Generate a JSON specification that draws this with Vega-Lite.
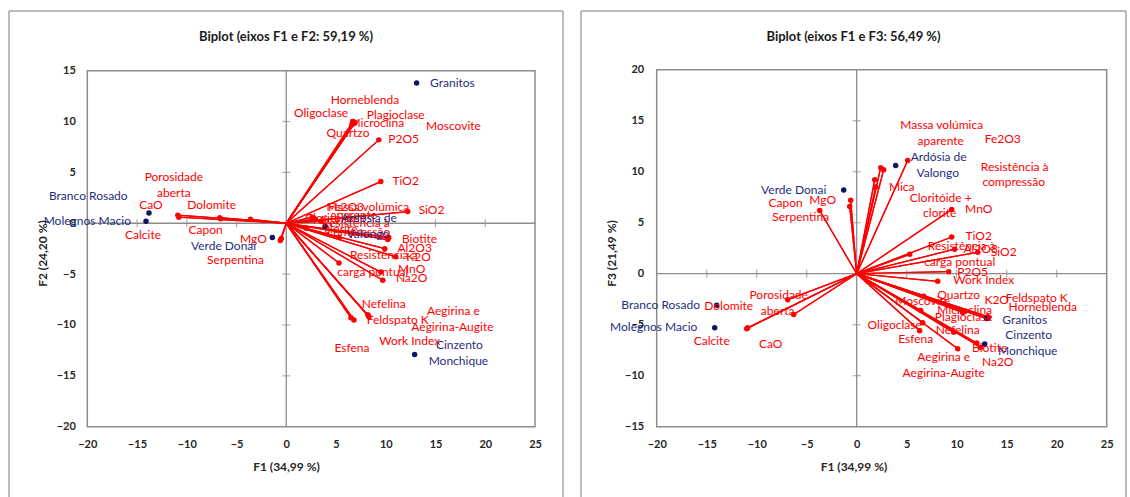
{
  "$schema": "https://vega.github.io/schema/vega-lite/v6.json",
  "padding": {"left": 7, "top": 9, "right": 0, "bottom": 0},
  "autosize": {"type": "pad"},
  "spacing": 14,
  "config": {
    "font": "Lato",
    "view": {"stroke": null},
    "axis": {"grid": false, "domain": false, "ticks": false, "tickSize": 0, "labelFont": "Lato", "labelFontSize": 11, "labelFontWeight": "bold", "labelColor": "#262626", "titleFont": "Lato", "titleFontSize": 12, "titleFontWeight": "bold", "titleColor": "#262626"},
    "title": {"font": "Lato", "fontSize": 13, "fontWeight": "bold", "color": "#1a1a1a", "anchor": "middle"}
  },
  "datasets": {
    "vecL": [
      {"n": "CaO", "x": -10.9, "y": 0.8}, {"n": "Calcite", "x": -10.8, "y": 0.6},
      {"n": "Porosidade aberta", "x": -6.7, "y": 0.55}, {"n": "Dolomite", "x": -6.6, "y": 0.45},
      {"n": "Serpentina", "x": -3.6, "y": 0.4}, {"n": "MgO", "x": -0.5, "y": -1.5}, {"n": "Capon", "x": -0.6, "y": -1.7},
      {"n": "Oligoclase", "x": 6.7, "y": 10.0}, {"n": "Horneblenda", "x": 6.9, "y": 9.9}, {"n": "Plagioclase", "x": 6.8, "y": 9.8},
      {"n": "Microclina", "x": 6.75, "y": 9.95}, {"n": "Moscovite", "x": 6.6, "y": 9.7}, {"n": "Quartzo", "x": 6.85, "y": 9.85},
      {"n": "P2O5", "x": 9.3, "y": 8.2}, {"n": "TiO2", "x": 9.5, "y": 4.1}, {"n": "SiO2", "x": 12.2, "y": 1.15},
      {"n": "Massa volúmica aparente", "x": 2.6, "y": 0.6}, {"n": "Fe2O3", "x": 2.9, "y": 0.4}, {"n": "Mica", "x": 2.0, "y": -0.5},
      {"n": "Cloritóide + clorite", "x": 5.3, "y": -1.4}, {"n": "Resistência à compressão", "x": 3.5, "y": 0.2},
      {"n": "Biotite", "x": 10.2, "y": -1.6}, {"n": "Al2O3", "x": 9.9, "y": -2.5}, {"n": "K2O", "x": 11.0, "y": -3.3},
      {"n": "Resistência à carga pontual", "x": 5.3, "y": -3.9}, {"n": "MnO", "x": 9.5, "y": -4.8}, {"n": "Na2O", "x": 9.7, "y": -5.6},
      {"n": "Work Index", "x": 10.3, "y": -1.4}, {"n": "Nefelina", "x": 8.3, "y": -9.2}, {"n": "Feldspato K", "x": 8.2, "y": -9.0},
      {"n": "Esfena", "x": 6.5, "y": -9.3}, {"n": "Aegirina e Aegirina-Augite", "x": 6.8, "y": -9.5}
    ],
    "obsL": [
      {"n": "Branco Rosado", "x": -13.8, "y": 1.0}, {"n": "Molegnos Macio", "x": -14.1, "y": 0.2},
      {"n": "Verde Donai", "x": -1.4, "y": -1.4}, {"n": "Ardósia de Valongo", "x": 3.9, "y": -0.3},
      {"n": "Granitos", "x": 13.1, "y": 13.8}, {"n": "Cinzento Monchique", "x": 12.9, "y": -12.9}
    ],
    "labL": [
      {"t": "Horneblenda", "k": "var", "x": 7.9, "y": 12.1}, {"t": "Oligoclase", "k": "var", "x": 3.5, "y": 10.8},
      {"t": "Plagioclase", "k": "var", "x": 11.0, "y": 10.6}, {"t": "Microclina", "k": "var", "x": 9.1, "y": 9.9},
      {"t": "Moscovite", "k": "var", "x": 16.8, "y": 9.6}, {"t": "Quartzo", "k": "var", "x": 6.2, "y": 8.9},
      {"t": "P2O5", "k": "var", "x": 11.8, "y": 8.3}, {"t": "TiO2", "k": "var", "x": 12.0, "y": 4.2},
      {"t": "SiO2", "k": "var", "x": 14.6, "y": 1.3},
      {"t": "Massa volúmica", "k": "var", "x": 8.2, "y": 1.6}, {"t": "Fe2O3", "k": "var", "x": 6.0, "y": 1.6},
      {"t": "aparente", "k": "var", "x": 6.8, "y": 0.8}, {"t": "Cloritóide +", "k": "var", "x": 5.0, "y": 0.5},
      {"t": "Resistência à", "k": "var", "x": 7.0, "y": 0.0}, {"t": "clorite", "k": "var", "x": 5.5, "y": -0.6},
      {"t": "compressão", "k": "var", "x": 7.3, "y": -0.9}, {"t": "Mica", "k": "var", "x": 4.0, "y": 0.3},
      {"t": "Ardósia de", "k": "obs", "x": 8.3, "y": 0.5}, {"t": "Valongo", "k": "obs", "x": 8.2, "y": -1.1},
      {"t": "Biotite", "k": "var", "x": 13.4, "y": -1.5}, {"t": "Al2O3", "k": "var", "x": 12.9, "y": -2.4},
      {"t": "Resistência à", "k": "var", "x": 9.8, "y": -3.1}, {"t": "K2O", "k": "var", "x": 13.3, "y": -3.3},
      {"t": "carga pontual", "k": "var", "x": 8.7, "y": -4.75}, {"t": "MnO", "k": "var", "x": 12.6, "y": -4.5},
      {"t": "Na2O", "k": "var", "x": 12.6, "y": -5.4}, {"t": "Nefelina", "k": "var", "x": 9.8, "y": -7.9},
      {"t": "Feldspato K", "k": "var", "x": 11.2, "y": -9.5}, {"t": "Aegirina e", "k": "var", "x": 16.8, "y": -8.6},
      {"t": "Aegirina-Augite", "k": "var", "x": 16.7, "y": -10.2}, {"t": "Work Index", "k": "var", "x": 12.4, "y": -11.6},
      {"t": "Esfena", "k": "var", "x": 6.6, "y": -12.3},
      {"t": "Cinzento", "k": "obs", "x": 17.4, "y": -12.0}, {"t": "Monchique", "k": "obs", "x": 17.3, "y": -13.5},
      {"t": "Granitos", "k": "obs", "x": 16.7, "y": 13.8},
      {"t": "Porosidade", "k": "var", "x": -11.3, "y": 4.5}, {"t": "aberta", "k": "var", "x": -11.3, "y": 2.95},
      {"t": "Dolomite", "k": "var", "x": -7.5, "y": 1.8}, {"t": "CaO", "k": "var", "x": -13.6, "y": 1.75},
      {"t": "Calcite", "k": "var", "x": -14.4, "y": -1.15}, {"t": "Capon", "k": "var", "x": -8.1, "y": -0.7},
      {"t": "MgO", "k": "var", "x": -3.3, "y": -1.5}, {"t": "Serpentina", "k": "var", "x": -5.1, "y": -3.6},
      {"t": "Branco Rosado", "k": "obs", "x": -19.9, "y": 2.7}, {"t": "Molegnos Macio", "k": "obs", "x": -20.0, "y": 0.2},
      {"t": "Verde Donai", "k": "obs", "x": -6.3, "y": -2.2}
    ],
    "xtL": [{"x": -15}, {"x": -10}, {"x": -5}, {"x": 5}, {"x": 10}, {"x": 15}, {"x": 20}],
    "ytL": [{"y": -15}, {"y": -10}, {"y": -5}, {"y": 5}, {"y": 10}],
    "vecR": [
      {"n": "CaO", "x": -11.0, "y": -5.4}, {"n": "Calcite", "x": -10.9, "y": -5.3},
      {"n": "Porosidade aberta", "x": -6.9, "y": -2.55}, {"n": "Dolomite", "x": -6.3, "y": -4.0},
      {"n": "MgO", "x": -0.6, "y": 7.2}, {"n": "Capon", "x": -0.7, "y": 6.6}, {"n": "Serpentina", "x": -3.7, "y": 6.2},
      {"n": "Massa volúmica aparente", "x": 2.4, "y": 10.4}, {"n": "Fe2O3", "x": 2.7, "y": 10.2},
      {"n": "Resistência à compressão", "x": 5.1, "y": 11.1}, {"n": "Mica", "x": 1.8, "y": 9.2},
      {"n": "Cloritóide + clorite", "x": 1.9, "y": 8.5}, {"n": "MnO", "x": 9.5, "y": 6.3},
      {"n": "TiO2", "x": 9.5, "y": 3.6}, {"n": "Al2O3", "x": 9.8, "y": 2.4}, {"n": "SiO2", "x": 12.1, "y": 2.1},
      {"n": "Resistência à carga pontual", "x": 5.3, "y": 1.9}, {"n": "P2O5", "x": 9.2, "y": 0.2},
      {"n": "Work Index", "x": 8.1, "y": -0.75}, {"n": "Quartzo", "x": 6.7, "y": -2.2},
      {"n": "Moscovite", "x": 6.4, "y": -3.6}, {"n": "Oligoclase", "x": 6.6, "y": -4.8},
      {"n": "Esfena", "x": 6.3, "y": -5.6}, {"n": "Nefelina", "x": 9.7, "y": -5.75},
      {"n": "Microclina", "x": 10.8, "y": -3.7}, {"n": "Plagioclase", "x": 10.6, "y": -3.8},
      {"n": "K2O", "x": 13.1, "y": -4.2}, {"n": "Feldspato K", "x": 13.2, "y": -4.3}, {"n": "Horneblenda", "x": 13.0, "y": -4.4},
      {"n": "Aegirina e Aegirina-Augite", "x": 10.1, "y": -7.35}, {"n": "Biotite", "x": 12.0, "y": -6.8}, {"n": "Na2O", "x": 12.4, "y": -7.2}
    ],
    "obsR": [
      {"n": "Ardósia de Valongo", "x": 3.9, "y": 10.6}, {"n": "Verde Donai", "x": -1.3, "y": 8.2},
      {"n": "Branco Rosado", "x": -14.0, "y": -3.1}, {"n": "Molegnos Macio", "x": -14.2, "y": -5.3},
      {"n": "Granitos", "x": 13.0, "y": -4.4}, {"n": "Cinzento Monchique", "x": 12.8, "y": -6.9}
    ],
    "labR": [
      {"t": "Verde Donai", "k": "obs", "x": -6.3, "y": 8.2}, {"t": "Capon", "k": "var", "x": -7.1, "y": 6.9},
      {"t": "MgO", "k": "var", "x": -3.4, "y": 7.25}, {"t": "Serpentina", "k": "var", "x": -5.6, "y": 5.55},
      {"t": "Massa volúmica", "k": "var", "x": 8.5, "y": 14.6}, {"t": "aparente", "k": "var", "x": 8.4, "y": 13.0},
      {"t": "Fe2O3", "k": "var", "x": 14.6, "y": 13.2},
      {"t": "Ardósia de", "k": "obs", "x": 8.2, "y": 11.4}, {"t": "Valongo", "k": "obs", "x": 8.1, "y": 9.9},
      {"t": "Resistência à", "k": "var", "x": 15.8, "y": 10.5}, {"t": "compressão", "k": "var", "x": 15.7, "y": 8.95},
      {"t": "Mica", "k": "var", "x": 4.5, "y": 8.5}, {"t": "Cloritóide +", "k": "var", "x": 8.4, "y": 7.4},
      {"t": "clorite", "k": "var", "x": 8.3, "y": 5.95}, {"t": "MnO", "k": "var", "x": 12.2, "y": 6.3},
      {"t": "TiO2", "k": "var", "x": 12.2, "y": 3.7}, {"t": "Resistência à", "k": "var", "x": 10.5, "y": 2.75},
      {"t": "Al2O3", "k": "var", "x": 12.4, "y": 2.4}, {"t": "SiO2", "k": "var", "x": 14.7, "y": 2.1},
      {"t": "carga pontual", "k": "var", "x": 10.3, "y": 1.1}, {"t": "P2O5", "k": "var", "x": 11.6, "y": 0.2},
      {"t": "Work Index", "k": "var", "x": 12.7, "y": -0.65}, {"t": "Quartzo", "k": "var", "x": 10.2, "y": -2.05},
      {"t": "K2O", "k": "var", "x": 14.0, "y": -2.55}, {"t": "Feldspato K", "k": "var", "x": 18.0, "y": -2.4},
      {"t": "Horneblenda", "k": "var", "x": 18.6, "y": -3.3}, {"t": "Moscovite", "k": "var", "x": 6.6, "y": -2.7},
      {"t": "Microclina", "k": "var", "x": 10.8, "y": -3.6}, {"t": "Plagioclase", "k": "var", "x": 10.7, "y": -4.2},
      {"t": "Granitos", "k": "obs", "x": 16.8, "y": -4.5}, {"t": "Oligoclase", "k": "var", "x": 3.8, "y": -5.0},
      {"t": "Nefelina", "k": "var", "x": 10.1, "y": -5.55}, {"t": "Esfena", "k": "var", "x": 5.9, "y": -6.4},
      {"t": "Cinzento", "k": "obs", "x": 17.2, "y": -6.05}, {"t": "Biotite", "k": "var", "x": 13.3, "y": -7.3},
      {"t": "Monchique", "k": "obs", "x": 17.1, "y": -7.55}, {"t": "Aegirina e", "k": "var", "x": 8.7, "y": -8.2},
      {"t": "Na2O", "k": "var", "x": 14.1, "y": -8.7}, {"t": "Aegirina-Augite", "k": "var", "x": 8.7, "y": -9.75},
      {"t": "Porosidade", "k": "var", "x": -7.8, "y": -2.05}, {"t": "aberta", "k": "var", "x": -7.9, "y": -3.7},
      {"t": "Branco Rosado", "k": "obs", "x": -19.6, "y": -3.05}, {"t": "Dolomite", "k": "var", "x": -12.8, "y": -3.2},
      {"t": "Molegnos Macio", "k": "obs", "x": -20.3, "y": -5.2}, {"t": "Calcite", "k": "var", "x": -14.5, "y": -6.55},
      {"t": "CaO", "k": "var", "x": -8.6, "y": -6.85}
    ],
    "xtR": [{"x": -15}, {"x": -10}, {"x": -5}, {"x": 5}, {"x": 10}, {"x": 15}, {"x": 20}],
    "ytR": [{"y": -10}, {"y": -5}, {"y": 5}, {"y": 10}, {"y": 15}]
  },
  "hconcat": [
    {
      "width": 558,
      "height": 488,
      "title": {"text": "Biplot (eixos F1 e F2: 59,19 %)", "offset": -35},
      "layer": [
        {"data": {"name": "vecL"}, "mark": {"type": "rule", "color": "#ff0000", "strokeWidth": 1.3},
         "encoding": {
           "x": {"field": "x", "type": "quantitative", "scale": {"domain": [-28.071, 28.015], "nice": false, "zero": false},
                 "axis": {"values": [-20, -15, -10, -5, 0, 5, 10, 15, 20, 25], "offset": -70.3, "labelPadding": 12, "title": "F1 (34,99 %)", "titlePadding": 12}},
           "y": {"field": "y", "type": "quantitative", "scale": {"domain": [-26.912, 21.066], "nice": false, "zero": false},
                 "axis": {"values": [-20, -15, -10, -5, 0, 5, 10, 15], "offset": -80.3, "labelPadding": 12, "title": "F2 (24,20 %)", "titlePadding": 7}},
           "x2": {"datum": 0}, "y2": {"datum": 0}}},
        {"data": {"values": [{}]}, "mark": {"type": "rule", "color": "#a6a6a6", "strokeWidth": 1.5},
         "encoding": {"x": {"datum": -27.87, "type": "quantitative"}, "y": {"datum": 20.87, "type": "quantitative"}, "y2": {"datum": -26.912}}},
        {"data": {"values": [{}]}, "mark": {"type": "rule", "color": "#a6a6a6", "strokeWidth": 1.5},
         "encoding": {"x": {"datum": 27.814, "type": "quantitative"}, "y": {"datum": 20.87, "type": "quantitative"}, "y2": {"datum": -26.912}}},
        {"data": {"values": [{}]}, "mark": {"type": "rule", "color": "#a6a6a6", "strokeWidth": 1.5},
         "encoding": {"x": {"datum": -27.87, "type": "quantitative"}, "x2": {"datum": 27.814}, "y": {"datum": 20.87, "type": "quantitative"}}},
        {"data": {"values": [{}]}, "mark": {"type": "rect", "fill": null, "stroke": "#8c8c8c", "strokeWidth": 1.5},
         "encoding": {"x": {"datum": -20, "type": "quantitative"}, "x2": {"datum": 25}, "y": {"datum": -20, "type": "quantitative"}, "y2": {"datum": 15}}},
        {"data": {"values": [{}]}, "mark": {"type": "rule", "color": "#8c8c8c", "strokeWidth": 1.3},
         "encoding": {"x": {"datum": 0, "type": "quantitative"}, "y": {"datum": -20, "type": "quantitative"}, "y2": {"datum": 15}}},
        {"data": {"values": [{}]}, "mark": {"type": "rule", "color": "#8c8c8c", "strokeWidth": 1.3},
         "encoding": {"y": {"datum": 0, "type": "quantitative"}, "x": {"datum": -20, "type": "quantitative"}, "x2": {"datum": 25}}},
        {"data": {"name": "xtL"}, "mark": {"type": "tick", "orient": "vertical", "size": 8, "thickness": 1.2, "color": "#8c8c8c"},
         "encoding": {"x": {"field": "x", "type": "quantitative"}, "y": {"datum": 0, "type": "quantitative"}}},
        {"data": {"name": "ytL"}, "mark": {"type": "tick", "orient": "horizontal", "size": 8, "thickness": 1.2, "color": "#8c8c8c"},
         "encoding": {"y": {"field": "y", "type": "quantitative"}, "x": {"datum": 0, "type": "quantitative"}}},
        {"data": {"name": "vecL"}, "mark": {"type": "rule", "color": "#ff0000", "strokeWidth": 1.3},
         "encoding": {"x": {"field": "x", "type": "quantitative"}, "y": {"field": "y", "type": "quantitative"}, "x2": {"datum": 0}, "y2": {"datum": 0}}},
        {"data": {"name": "vecL"}, "mark": {"type": "circle", "color": "#ff0000", "size": 30, "opacity": 1},
         "encoding": {"x": {"field": "x", "type": "quantitative"}, "y": {"field": "y", "type": "quantitative"}}},
        {"data": {"name": "obsL"}, "mark": {"type": "circle", "color": "#0c1565", "size": 30, "opacity": 1},
         "encoding": {"x": {"field": "x", "type": "quantitative"}, "y": {"field": "y", "type": "quantitative"}}},
        {"data": {"name": "labL"}, "mark": {"type": "text", "fontSize": 12, "font": "Lato"},
         "encoding": {"x": {"field": "x", "type": "quantitative"}, "y": {"field": "y", "type": "quantitative"},
           "text": {"field": "t"}, "color": {"field": "k", "type": "nominal", "scale": {"domain": ["var", "obs"], "range": ["#ff0000", "#1f2d80"]}, "legend": null}}}
      ]
    },
    {
      "width": 549,
      "height": 488,
      "title": {"text": "Biplot (eixos F1 e F3: 56,49 %)", "offset": -35},
      "layer": [
        {"data": {"name": "vecR"}, "mark": {"type": "rule", "color": "#ff0000", "strokeWidth": 1.3},
         "encoding": {
           "x": {"field": "x", "type": "quantitative", "scale": {"domain": [-27.77, 27.13], "nice": false, "zero": false},
                 "axis": {"values": [-20, -15, -10, -5, 0, 5, 10, 15, 20, 25], "offset": -70.3, "labelPadding": 12, "title": "F1 (34,99 %)", "titlePadding": 12}},
           "y": {"field": "y", "type": "quantitative", "scale": {"domain": [-21.89, 25.95], "nice": false, "zero": false},
                 "axis": {"values": [-15, -10, -5, 0, 5, 10, 15, 20], "offset": -77.7, "labelPadding": 13, "title": "F3 (21,49 %)", "titlePadding": 6}},
           "x2": {"datum": 0}, "y2": {"datum": 0}}},
        {"data": {"values": [{}]}, "mark": {"type": "rule", "color": "#a6a6a6", "strokeWidth": 1.5},
         "encoding": {"x": {"datum": -27.57, "type": "quantitative"}, "y": {"datum": 25.755, "type": "quantitative"}, "y2": {"datum": -21.89}}},
        {"data": {"values": [{}]}, "mark": {"type": "rule", "color": "#a6a6a6", "strokeWidth": 1.5},
         "encoding": {"x": {"datum": 26.93, "type": "quantitative"}, "y": {"datum": 25.755, "type": "quantitative"}, "y2": {"datum": -21.89}}},
        {"data": {"values": [{}]}, "mark": {"type": "rule", "color": "#a6a6a6", "strokeWidth": 1.5},
         "encoding": {"x": {"datum": -27.57, "type": "quantitative"}, "x2": {"datum": 26.93}, "y": {"datum": 25.755, "type": "quantitative"}}},
        {"data": {"values": [{}]}, "mark": {"type": "rect", "fill": null, "stroke": "#8c8c8c", "strokeWidth": 1.5},
         "encoding": {"x": {"datum": -20, "type": "quantitative"}, "x2": {"datum": 25}, "y": {"datum": -15, "type": "quantitative"}, "y2": {"datum": 20}}},
        {"data": {"values": [{}]}, "mark": {"type": "rule", "color": "#8c8c8c", "strokeWidth": 1.3},
         "encoding": {"x": {"datum": 0, "type": "quantitative"}, "y": {"datum": -15, "type": "quantitative"}, "y2": {"datum": 20}}},
        {"data": {"values": [{}]}, "mark": {"type": "rule", "color": "#8c8c8c", "strokeWidth": 1.3},
         "encoding": {"y": {"datum": 0, "type": "quantitative"}, "x": {"datum": -20, "type": "quantitative"}, "x2": {"datum": 25}}},
        {"data": {"name": "xtR"}, "mark": {"type": "tick", "orient": "vertical", "size": 8, "thickness": 1.2, "color": "#8c8c8c"},
         "encoding": {"x": {"field": "x", "type": "quantitative"}, "y": {"datum": 0, "type": "quantitative"}}},
        {"data": {"name": "ytR"}, "mark": {"type": "tick", "orient": "horizontal", "size": 8, "thickness": 1.2, "color": "#8c8c8c"},
         "encoding": {"y": {"field": "y", "type": "quantitative"}, "x": {"datum": 0, "type": "quantitative"}}},
        {"data": {"name": "vecR"}, "mark": {"type": "rule", "color": "#ff0000", "strokeWidth": 1.3},
         "encoding": {"x": {"field": "x", "type": "quantitative"}, "y": {"field": "y", "type": "quantitative"}, "x2": {"datum": 0}, "y2": {"datum": 0}}},
        {"data": {"name": "vecR"}, "mark": {"type": "circle", "color": "#ff0000", "size": 30, "opacity": 1},
         "encoding": {"x": {"field": "x", "type": "quantitative"}, "y": {"field": "y", "type": "quantitative"}}},
        {"data": {"name": "obsR"}, "mark": {"type": "circle", "color": "#0c1565", "size": 30, "opacity": 1},
         "encoding": {"x": {"field": "x", "type": "quantitative"}, "y": {"field": "y", "type": "quantitative"}}},
        {"data": {"name": "labR"}, "mark": {"type": "text", "fontSize": 12, "font": "Lato"},
         "encoding": {"x": {"field": "x", "type": "quantitative"}, "y": {"field": "y", "type": "quantitative"},
           "text": {"field": "t"}, "color": {"field": "k", "type": "nominal", "scale": {"domain": ["var", "obs"], "range": ["#ff0000", "#1f2d80"]}, "legend": null}}}
      ]
    }
  ]
}
